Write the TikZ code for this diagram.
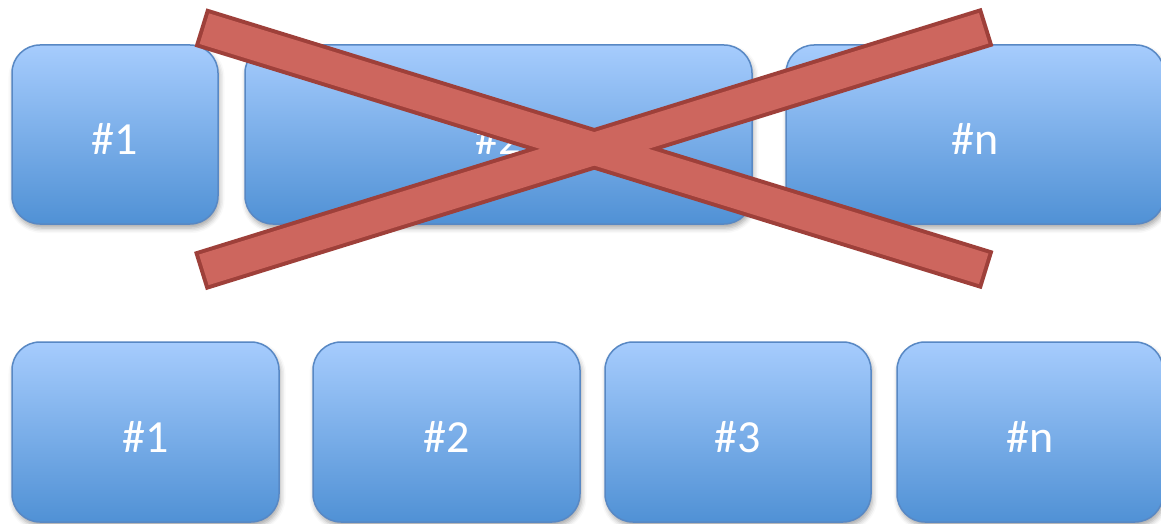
\documentclass[tikz,border=0pt]{standalone}
\usepackage{fontspec}
\setmainfont{Carlito}
\usetikzlibrary{shadows.blur}
\definecolor{boxtop}{RGB}{166,204,253}
\definecolor{boxbot}{RGB}{80,145,213}
\definecolor{boxline}{RGB}{88,136,196}
\definecolor{xfill}{RGB}{205,102,94}
\definecolor{xline}{RGB}{158,64,58}
\tikzset{
  box/.style={draw=boxline, line width=1.5pt, rounded corners=28pt,
    top color=boxtop, bottom color=boxbot,
    blur shadow={shadow xshift=1.5pt, shadow yshift=-4pt, shadow blur radius=5pt, shadow opacity=35},
    text=white, font=\fontsize{46}{54}\selectfont, inner sep=0pt,
    text height=40pt, text depth=0pt,
    minimum height=179pt},
  xborder/.style={xline, line width=40pt, line cap=butt},
  xbody/.style={xfill, line width=32pt, line cap=butt, shorten <=4pt, shorten >=4pt}
}
\begin{document}
\begin{tikzpicture}[x=1pt,y=-1pt]
\useasboundingbox (0,0) rectangle (1161,524);
% top row
\node[box, minimum width=206pt] (t1) at (115,134.5) {\#1};
\node[box, minimum width=507pt] (t2) at (498.5,134.5) {\#2};
\node[box, minimum width=378pt] (tn) at (975,134.5) {\#n};
% bottom row
\node[box, minimum width=267pt, minimum height=180pt] (b1) at (145.5,432) {\#1};
\node[box, minimum width=267pt, minimum height=180pt] (b2) at (446.5,432) {\#2};
\node[box, minimum width=266pt, minimum height=180pt] (b3) at (738,432) {\#3};
\node[box, minimum width=266pt, minimum height=180pt] (bn) at (1030,432) {\#n};
% cross
\coordinate (a1) at (200.5,27.5);
\coordinate (a2) at (987.5,270);
\coordinate (c1) at (987.5,27);
\coordinate (c2) at (200,271);
\draw[xborder] (a1) -- (a2);
\draw[xborder] (c1) -- (c2);
\draw[xbody] (a1) -- (a2);
\draw[xbody] (c1) -- (c2);
\end{tikzpicture}
\end{document}
